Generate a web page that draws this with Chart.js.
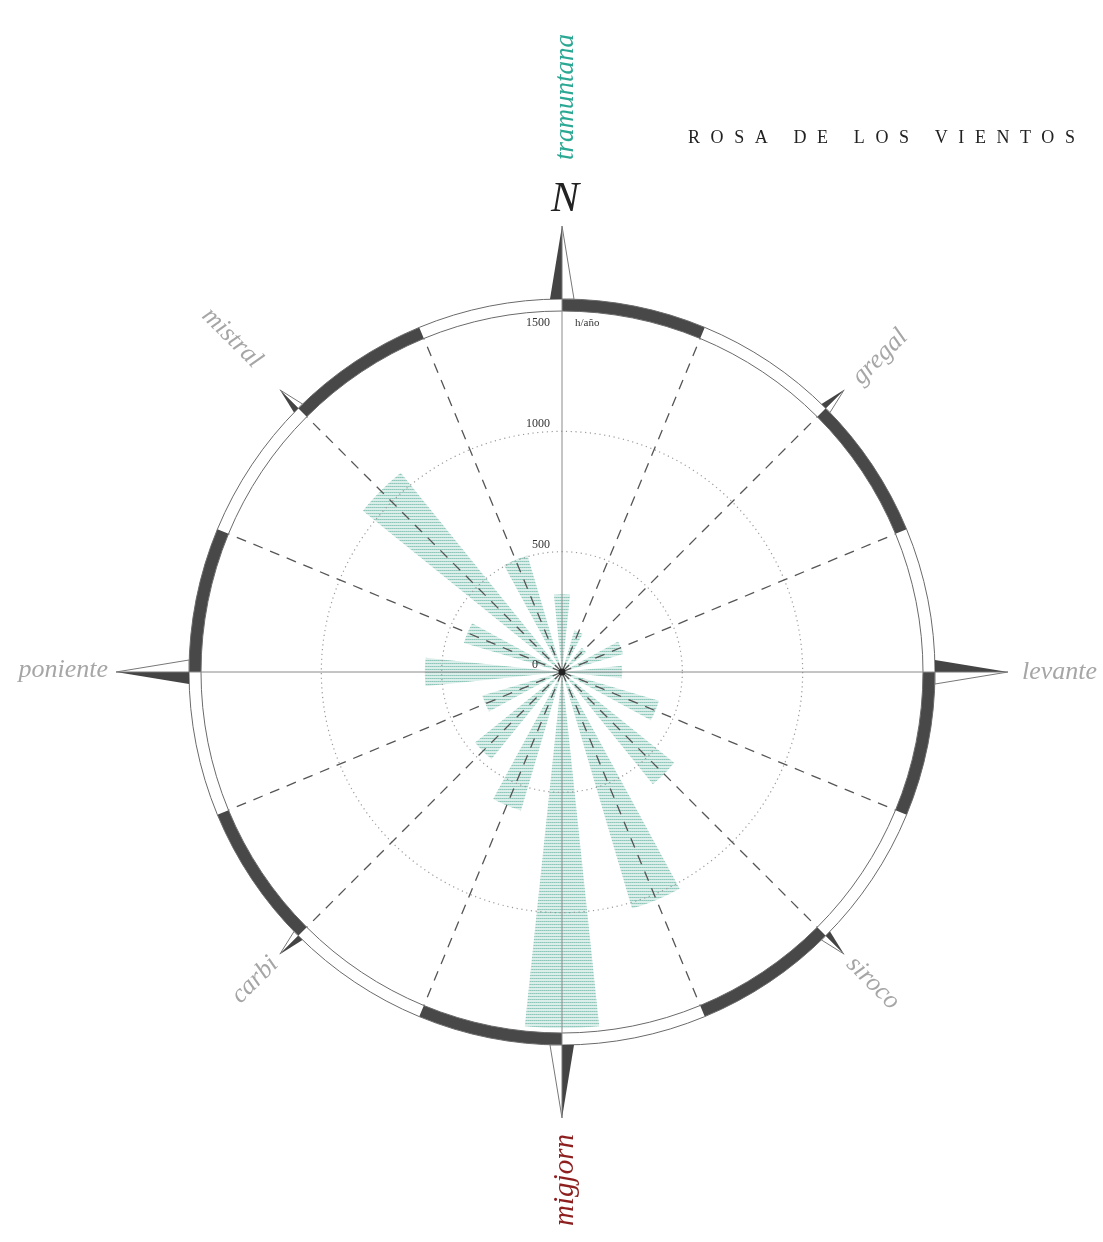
<!DOCTYPE html>
<html>
<head>
<meta charset="utf-8">
<title>Rosa de los vientos</title>
<script src="https://cdn.jsdelivr.net/npm/chart.js@4.4.1/dist/chart.umd.min.js"></script>
<style>
  html, body { margin: 0; padding: 0; background: #fff; }
  #wrap { position: relative; width: 1103px; height: 1242px; }
</style>
</head>
<body>
<div id="wrap"><canvas id="rose" width="1103" height="1242"></canvas></div>
<script>
// ---------- data ----------
const directions   = ["N","NNE","NE","ENE","E","ESE","SE","SSE","S","SSW","SW","WSW","W","WNW","NW","NNW"];
const hoursPerYear = [323, 180, 130, 265, 250, 420, 600, 1025, 1480, 600, 465, 345, 570, 425, 1065, 505];
const tickValues   = [0, 500, 1000, 1500];
const windNames    = ["tramuntana","gregal","levante","siroco","migjorn","carbi","poniente","mistral"];

// bars interleaved with empty gaps so each wedge is narrower than its sector
const labels = [], values = [];
directions.forEach((d, i) => {
  labels.push(d, d + "-gap");
  values.push(hoursPerYear[i], 0);
});

// ---------- hatch fill ----------
function hatch() {
  const c = document.createElement("canvas");
  c.width = 2; c.height = 3;
  const g = c.getContext("2d");
  g.fillStyle = "#dbeee9"; g.fillRect(0, 0, 2, 3);
  g.fillStyle = "#8fc6ba"; g.fillRect(0, 0, 1, 1);
  g.fillStyle = "#a8d3c9"; g.fillRect(1, 0, 1, 1);
  return g.createPattern(c, "repeat");
}

const SERIF = '"Liberation Serif", "DejaVu Serif", serif';
const rad = deg => (deg - 90) * Math.PI / 180;   // compass deg -> canvas rad

/* ---------- decorations (ring, axes, compass points, names) ---------- */
const compassPlugin = {
  id: "compass",
  afterDatasetsDraw(chart) {
    const s   = chart.scales.r;
    const ctx = chart.ctx;
    const cx = s.xCenter, cy = s.yCenter, R = s.drawingArea;
    const R2 = R + 12;
    const pt = (deg, r) => [cx + r * Math.cos(rad(deg)), cy + r * Math.sin(rad(deg))];

    ctx.save();

    // dotted circles
    ctx.strokeStyle = "#9a9a9a"; ctx.lineWidth = 1.2; ctx.setLineDash([1.2, 3.6]);
    tickValues.slice(1, -1).forEach(v => {
      ctx.beginPath(); ctx.arc(cx, cy, s.getDistanceFromCenterForValue(v), 0, Math.PI * 2); ctx.stroke();
    });

    // dashed direction lines
    ctx.strokeStyle = "#555"; ctx.lineWidth = 1.3; ctx.setLineDash([10, 8]);
    for (let k = 0; k < 16; k++) {
      if (k % 4 === 0) continue;
      const [x1, y1] = pt(k * 22.5, 0), [x2, y2] = pt(k * 22.5, R);
      ctx.beginPath(); ctx.moveTo(x1, y1); ctx.lineTo(x2, y2); ctx.stroke();
    }
    ctx.setLineDash([]);

    // ring band
    for (let k = 0; k < 8; k++) {
      ctx.beginPath();
      ctx.arc(cx, cy, R2, rad(k * 45), rad(k * 45 + 22.5));
      ctx.arc(cx, cy, R, rad(k * 45 + 22.5), rad(k * 45), true);
      ctx.closePath();
      ctx.fillStyle = "#484848"; ctx.fill();
    }
    ctx.strokeStyle = "#6a6a6a"; ctx.lineWidth = 1;
    [R, R2].forEach(r => { ctx.beginPath(); ctx.arc(cx, cy, r, 0, Math.PI * 2); ctx.stroke(); });

    // main axes
    ctx.strokeStyle = "#8a8a8a"; ctx.lineWidth = 1;
    ctx.beginPath();
    ctx.moveTo(cx, cy - R2); ctx.lineTo(cx, cy + R2);
    ctx.moveTo(cx - R2, cy); ctx.lineTo(cx + R2, cy);
    ctx.stroke();

    // compass points: dark half on the counter-clockwise side
    const point = (deg, len, w) => {
      const a = rad(deg);
      const ux = Math.cos(a), uy = Math.sin(a);
      const px = uy, py = -ux;
      const bx = cx + ux * R2, by = cy + uy * R2;
      const tx = cx + ux * (R2 + len), ty = cy + uy * (R2 + len);
      ctx.beginPath();
      ctx.moveTo(bx, by); ctx.lineTo(bx + px * w, by + py * w); ctx.lineTo(tx, ty); ctx.closePath();
      ctx.fillStyle = "#444"; ctx.fill();
      ctx.beginPath();
      ctx.moveTo(bx, by); ctx.lineTo(bx - px * w, by - py * w); ctx.lineTo(tx, ty); ctx.closePath();
      ctx.fillStyle = "#fff"; ctx.fill();
      ctx.strokeStyle = "#777"; ctx.lineWidth = 1; ctx.stroke();
    };
    [0, 90, 180, 270].forEach(d => point(d, 73, 12));
    [45, 135, 225, 315].forEach(d => point(d, 26, 6));

    // centre dot
    ctx.beginPath(); ctx.arc(cx, cy, 3.5, 0, Math.PI * 2); ctx.fillStyle = "#222"; ctx.fill();

    // tick labels
    ctx.fillStyle = "#333"; ctx.font = "12px " + SERIF; ctx.textBaseline = "middle"; ctx.textAlign = "right";
    tickValues.forEach(v => {
      const d = s.getDistanceFromCenterForValue(v);
      const y = v === tickValues[tickValues.length - 1] ? cy - d + 12 : cy - d - 7;
      ctx.fillText(String(v), cx - (v === 0 ? 24 : 12), y);
    });
    ctx.textAlign = "left"; ctx.font = "11px " + SERIF;
    ctx.fillText("h/año", cx + 13, cy - R + 12);

    // wind names
    const name = (txt, x, y, rot, color, size, align) => {
      ctx.save();
      ctx.translate(x, y); ctx.rotate(rot * Math.PI / 180);
      ctx.font = "italic " + size + "px " + SERIF;
      ctx.fillStyle = color; ctx.textAlign = align || "center"; ctx.textBaseline = "middle";
      ctx.fillText(txt, 0, 0);
      ctx.restore();
    };
    const grey = "#a6a6a6";
    name(windNames[0], cx + 4, 97, -90, "#2aa893", 27);
    name(windNames[1], 880, 357, -45, grey, 26);
    name(windNames[2], cx + 460, cy, 0, grey, 26, "left");
    name(windNames[3], 873, 983, 45, grey, 26);
    name(windNames[4], cx + 3, 1180, -90, "#8e1f1f", 29);
    name(windNames[5], 255, 980, -45, grey, 26);
    name(windNames[6], cx - 454, cy - 2, 0, grey, 26, "right");
    name(windNames[7], 232, 338, 45, grey, 26);
    name("N", cx + 3, 200, 0, "#222", 42);

    // title
    ctx.font = "18px " + SERIF; ctx.fillStyle = "#222";
    ctx.textAlign = "left"; ctx.textBaseline = "middle";
    ctx.letterSpacing = "10.6px";
    ctx.fillText("ROSA DE LOS VIENTOS", 688, 138);
    ctx.letterSpacing = "0px";

    ctx.restore();
  }
};

const fill = hatch();

new Chart(document.getElementById("rose"), {
  type: "polarArea",
  data: {
    labels,
    datasets: [{
      data: values,
      backgroundColor: values.map((v, i) => i % 2 ? "rgba(0,0,0,0)" : fill),
      borderWidth: 0,
      angle: c => c.dataIndex % 2 ? 10.5 : 12
    }]
  },
  options: {
    responsive: false,
    animation: false,
    devicePixelRatio: 1,
    layout: { padding: { left: 201, right: 180, top: 311, bottom: 209 } },
    plugins: { legend: { display: false }, tooltip: { enabled: false } },
    scales: {
      r: {
        min: 0, max: 1500,
        startAngle: -6,
        ticks: { display: false, stepSize: 500 },
        grid: { display: false },
        angleLines: { display: false },
        pointLabels: { display: false }
      }
    }
  },
  plugins: [compassPlugin]
});
</script>
</body>
</html>
